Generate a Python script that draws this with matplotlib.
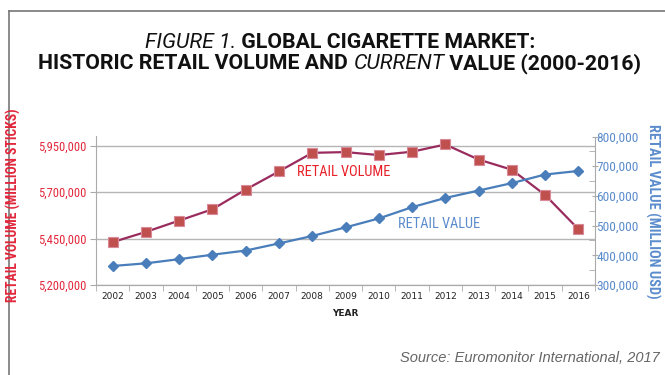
import matplotlib
matplotlib.use("Agg")
import matplotlib.pyplot as plt
from matplotlib.ticker import FuncFormatter, MultipleLocator, FixedLocator
import numpy as np

years = ["2002", "2003", "2004", "2005", "2006", "2007", "2008", "2009",
         "2010", "2011", "2012", "2013", "2014", "2015", "2016"]
retail_volume = [5431000, 5486000, 5547000, 5608000, 5714000, 5812000, 5912000,
                 5916000, 5900000, 5918000, 5957000, 5876000, 5821000, 5685000, 5501000]
retail_value = [364000, 373000, 387000, 402000, 416000, 440000, 465000, 494000,
                524000, 562000, 593000, 618000, 643000, 672000, 684000]
left_ticks = [5200000, 5450000, 5700000, 5950000]
right_ticks = [300000, 400000, 500000, 600000, 700000, 800000]

NARROW = ['Roboto Condensed', 'Archivo Narrow', 'DejaVu Sans']
TITLE_FONT = ['Roboto', 'DejaVu Sans']
RED = '#e2273c'
BLUE = '#5b8ccc'
VOL_LINE = '#9a2b5e'
VOL_FILL = '#c0504d'
VAL_LINE = '#4a7ebb'

fig = plt.figure(figsize=(6.65, 3.75), dpi=100)
W, H = 665, 375

# frame
fig.add_artist(plt.Line2D([9/W, 9/W], [0, 1 - 10.5/H], color='#777777', lw=1.2))
fig.add_artist(plt.Line2D([9/W, 1], [1 - 10.5/H, 1 - 10.5/H], color='#777777', lw=1.2))

ax = fig.add_axes([96/W, 1 - 285/H, (595 - 96)/W, (285 - 136.5)/H])
ax2 = ax.twinx()

x = np.arange(len(years))
ax.plot(x, retail_volume, color=VOL_LINE, lw=1.6, marker='s', ms=7.5,
        mfc=VOL_FILL, mec='#d98a9a', mew=0.8, zorder=3)
ax2.plot(x, retail_value, color=VAL_LINE, lw=1.6, marker='D', ms=5,
         mfc=VAL_LINE, mec=VAL_LINE, zorder=3)

ax.set_xlim(-0.5, len(years) - 0.5)
ax.set_ylim(5200000, 6000000)
ax2.set_ylim(300000, 800000)

ax.set_yticks(left_ticks)
ax.yaxis.set_major_formatter(FuncFormatter(lambda v, p: f"{int(v):,}"))
ax2.set_yticks(right_ticks)
ax2.yaxis.set_major_formatter(FuncFormatter(lambda v, p: f"{int(v):,}"))
ax2.yaxis.set_minor_locator(MultipleLocator(50000))

ax.set_xticks(x)
ax.set_xticklabels(years)
ax.xaxis.set_minor_locator(FixedLocator(np.arange(-0.5, len(years), 1.0)))
ax.tick_params(axis='x', which='major', length=0, labelsize=6.5, pad=5, labelcolor='#222222')
ax.tick_params(axis='x', which='minor', length=4, color='#aaaaaa', direction='out')

ax.grid(axis='y', color='#b5b5b5', lw=1.0)
ax.set_axisbelow(True)

for a in (ax, ax2):
    for s in a.spines.values():
        s.set_color('#aaaaaa')
    a.spines['top'].set_visible(False)
ax.spines['right'].set_visible(False)
ax2.spines['left'].set_visible(False)

ax.tick_params(axis='y', length=4, color='#aaaaaa', labelcolor=RED, labelsize=9.0, pad=3)
ax2.tick_params(axis='y', which='major', length=4, color='#aaaaaa', labelcolor=BLUE,
                labelsize=9.6, pad=-1, direction='inout')
ax2.tick_params(axis='y', which='minor', length=4, color='#aaaaaa', direction='in')
for lbl in ax.get_yticklabels() + ax2.get_yticklabels():
    lbl.set_family(NARROW)

ax.text(0.5, -0.195, "YEAR", transform=ax.transAxes, ha='center', va='center',
        fontsize=6.5, fontweight='bold', color='#222222')

fig.text(297/W, 1 - 172/H, "RETAIL VOLUME", ha='left', va='center',
         fontsize=10.4, color='#e8202a', family=NARROW)
fig.text(398/W, 1 - 224/H, "RETAIL VALUE", ha='left', va='center',
         fontsize=10.4, color=BLUE, family=NARROW)

fig.text(13/W, 1 - 205/H, "RETAIL VOLUME (MILLION STICKS)", rotation=90, ha='center', va='center',
         fontsize=9.8, fontweight='bold', color=RED, family=NARROW)
fig.text(653/W, 1 - 211/H, "RETAIL VALUE (MILLION USD)", rotation=-90, ha='center', va='center',
         fontsize=10.4, fontweight='bold', color=BLUE, family=NARROW)

fig.text(660/W, 1 - 358/H, "Source: Euromonitor International, 2017", ha='right', va='center',
         fontsize=10.5, style='italic', color='#666666', family=['Liberation Sans', 'DejaVu Sans'])

# title with mixed styles
renderer = fig.canvas.get_renderer()

def draw_line(pieces, baseline_y, size):
    ws = []
    for txt, st, wt in pieces:
        t = fig.text(0, 0, txt, fontsize=size, style=st, fontweight=wt, family=TITLE_FONT)
        ws.append(t.get_window_extent(renderer).width)
        t.remove()
    tot = sum(ws)
    xpos = 340 - tot / 2
    for (txt, st, wt), w in zip(pieces, ws):
        fig.text(xpos / W, 1 - baseline_y / H, txt, fontsize=size, style=st, fontweight=wt,
                 family=TITLE_FONT, ha='left', va='baseline', color='#111111')
        xpos += w

draw_line([("FIGURE 1.", 'italic', 'normal'), (" GLOBAL CIGARETTE MARKET:", 'normal', 'bold')],
          47.5, 15.3)
draw_line([("HISTORIC RETAIL VOLUME AND ", 'normal', 'bold'), ("CURRENT", 'italic', 'normal'),
           (" VALUE (2000-2016)", 'normal', 'bold')], 69, 15.3)

fig.savefig("out.png", dpi=100)
